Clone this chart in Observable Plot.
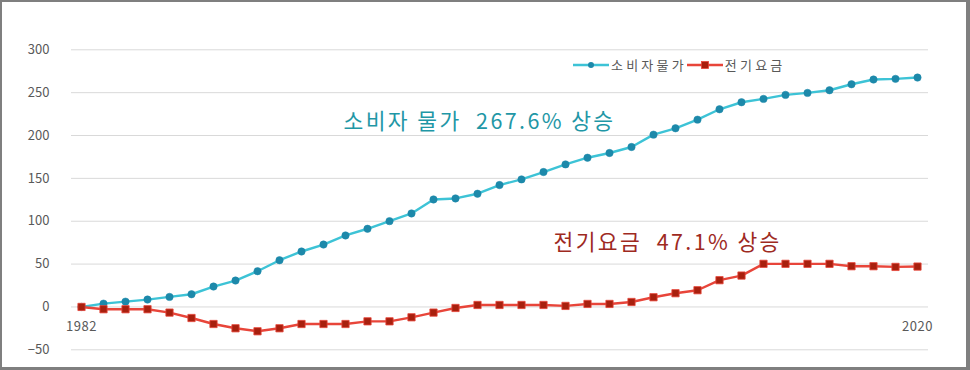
<!DOCTYPE html>
<html>
<head>
<meta charset="utf-8">
<script src="https://cdn.jsdelivr.net/npm/d3@7"></script>
<script src="https://cdn.jsdelivr.net/npm/@observablehq/plot@0.6"></script>
<style>
  html, body { margin: 0; padding: 0; background: #fff; }
  #wrap { position: relative; width: 970px; height: 370px; overflow: hidden; font-family: "Noto Sans CJK KR", "Noto Sans", sans-serif; }
  #frame { position: absolute; left: 0; top: 0; width: 970px; height: 370px; box-sizing: border-box;
           border-style: solid; border-color: #7f7f7f; border-width: 2px 4px 3px 2px; pointer-events: none; }
  #legend { position: absolute; left: 573px; top: 55px; display: flex; align-items: center; font-size: 13px; color: #595959; white-space: nowrap; }
  #legend .item { display: flex; align-items: center; }
  #legend span { letter-spacing: 3.2px; }
  #legend svg { display: block; }
</style>
</head>
<body>
<div id="wrap">
  <div id="chart"></div>
  <div id="legend"></div>
  <div id="frame"></div>
</div>
<script>
const years = d3.range(1982, 2021);
const cpi = [0, 3.9, 6.2, 8.6, 11.7, 14.8, 23.8, 30.8, 41.7, 54.5,
  64.7, 72.8, 83.4, 91.2, 100.1, 109.1, 125.4, 126.6, 132.1, 142.2,
  148.8, 157.4, 166.3, 174.1, 179.6, 186.6, 201.0, 208.4, 218.5, 230.6,
  238.8, 242.7, 247.4, 249.7, 252.8, 259.8, 265.3, 266.1, 267.6];
const elec = [0, -2.7, -2.7, -2.7, -6.6, -12.9, -19.9, -24.9, -28.4, -24.9,
  -19.9, -19.9, -19.9, -16.8, -16.8, -12.1, -6.6, -1.2, 2.3, 2.3,
  2.3, 2.3, 1.2, 3.5, 3.5, 5.8, 11.3, 16.0, 19.5, 31.2,
  36.6, 50.3, 50.3, 50.3, 50.3, 47.5, 47.5, 46.7, 47.1];
const yTicks = [-50, 0, 50, 100, 150, 200, 250, 300];
const xTicks = [1982, 2020];
const seriesNames = ["소비자물가", "전기요금"];
const annotations = ["소비자 물가  267.6% 상승", "전기요금  47.1% 상승"];

const cpiData = years.map((y, i) => ({year: y, value: cpi[i]}));
const elecData = years.map((y, i) => ({year: y, value: elec[i]}));

const cpiLine = "#3dc3d6", cpiDot = "#1d89aa";
const elecLine = "#e8453a", elecDot = "#a8200e";

const chart = Plot.plot({
  width: 970,
  height: 370,
  marginLeft: 71,
  marginRight: 42,
  marginTop: 49.3,
  marginBottom: 20.7,
  style: {fontFamily: '"Noto Sans CJK KR", "Noto Sans", sans-serif', background: "transparent"},
  x: {domain: [1981.545, 2020.5]},
  y: {domain: [-50, 300]},
  marks: [
    Plot.ruleY(yTicks, {stroke: "#d9d9d9", strokeWidth: 1}),
    Plot.axisY({ticks: yTicks, tickSize: 0, tickPadding: 22, fontSize: 13, color: "#595959", label: null}),
    Plot.axisX({ticks: xTicks, tickSize: 0, tickFormat: d => String(d), fontSize: 13, color: "#595959", label: null, dy: -37}),
    Plot.line(cpiData, {x: "year", y: "value", stroke: cpiLine, strokeWidth: 2.4}),
    Plot.line(elecData, {x: "year", y: "value", stroke: elecLine, strokeWidth: 2.4}),
    Plot.dot(cpiData, {x: "year", y: "value", r: 3.7, fill: cpiDot, stroke: cpiDot, strokeWidth: 0.5}),
    Plot.dot(elecData, {x: "year", y: "value", symbol: "square", r: 4.1, fill: elecDot, stroke: elecLine, strokeWidth: 0.8}),
    Plot.text([annotations[0]], {text: d => d, frameAnchor: "top-left", textAnchor: "start", lineAnchor: "middle",
      dx: 272, dy: 72, fontSize: 21.5, fill: "#1f97a6"}),
    Plot.text([annotations[1]], {text: d => d, frameAnchor: "top-left", textAnchor: "start", lineAnchor: "middle",
      dx: 482, dy: 193, fontSize: 21.5, fill: "#9e2a1f"})
  ]
});
document.getElementById("chart").appendChild(chart);

// widen annotation lettering like the reference, keep double spaces
d3.select(chart).selectAll("text")
  .filter(function() { return annotations.includes(this.textContent); })
  .style("letter-spacing", "2.4px")
  .style("white-space", "pre")
  .attr("xml:space", "preserve");
d3.select(chart).selectAll("text")
  .filter(function() { return xTicks.map(String).includes(this.textContent); })
  .style("letter-spacing", "0.6px");

// legend
const legend = d3.select("#legend");
const swatches = [
  {name: seriesNames[0], line: cpiLine, dot: cpiDot, shape: "circle"},
  {name: seriesNames[1], line: elecLine, dot: elecDot, shape: "square"}
];
swatches.forEach((s, i) => {
  const item = legend.append("div").attr("class", "item");
  const sv = item.append("svg").attr("width", 36).attr("height", 10);
  sv.append("line").attr("x1", 0).attr("x2", 36).attr("y1", 5).attr("y2", 5).attr("stroke", s.line).attr("stroke-width", 2.4);
  if (s.shape === "circle") sv.append("circle").attr("cx", 18).attr("cy", 5).attr("r", 3).attr("fill", s.dot);
  else sv.append("rect").attr("x", 14.5).attr("y", 1.5).attr("width", 7).attr("height", 7).attr("fill", s.dot).attr("stroke", s.line).attr("stroke-width", 0.8);
  item.append("span").text(s.name).style("margin-left", "2px");
});
</script>
</body>
</html>
